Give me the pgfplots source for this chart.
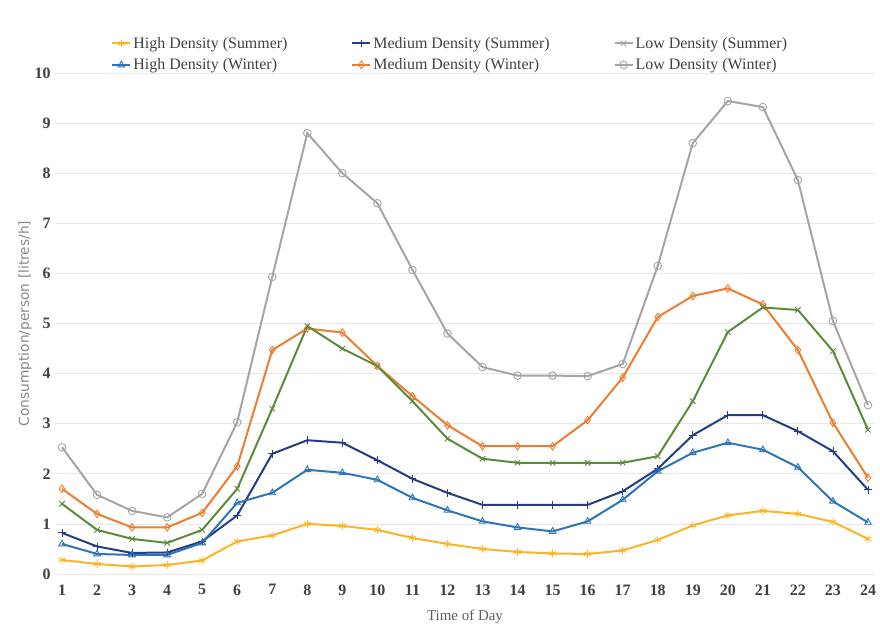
\documentclass[border=0pt]{standalone}
\usepackage{pgfplots}
\pgfplotsset{compat=1.18}
\usepackage{fontspec}
\setmainfont{Liberation Serif}
\newfontfamily\ylabfont{DejaVu Sans}
\definecolor{cHS}{RGB}{250,180,40}
\definecolor{cMS}{RGB}{35,62,130}
\definecolor{cLS}{RGB}{90,140,60}
\definecolor{cHW}{RGB}{46,117,182}
\definecolor{cMW}{RGB}{237,125,49}
\definecolor{cLW}{RGB}{165,165,165}
\definecolor{txt}{RGB}{64,64,64}
\definecolor{gridc}{RGB}{232,232,232}
\begin{document}
\begin{tikzpicture}
\path[use as bounding box] (0,0) rectangle (880bp,626bp);
\begin{axis}[
  at={(55bp,52bp)}, anchor=south west,
  scale only axis, width=820bp, height=501bp,
  xmin=0.8, xmax=24.2, ymin=0, ymax=10,
  xtick={1,...,24}, ytick={0,...,10},
  ymajorgrids, grid style={gridc, line width=0.6bp},
  axis line style={draw=none},
  major tick length=0pt,
  /pgf/number format/assume math mode=true,
  tick label style={font=\fontsize{16}{18}\selectfont\bfseries, text=txt},
  xticklabel style={yshift=-7bp},
  yticklabel style={xshift=-1bp},
  xlabel={\fontsize{15}{17}\selectfont Time of Day},
  xlabel style={text=txt!85, yshift=-8bp},
  ylabel={\ylabfont\fontsize{13.8}{15}\selectfont Consumption/person [litres/h]},
  ylabel style={text=gray!95, yshift=-4bp},
  legend columns=3,
  legend style={draw=none, fill=none, at={(0.482,1.076)}, anchor=north,
    font=\fontsize{16}{18}\selectfont, text=txt,
    /tikz/every even column/.append style={column sep=62bp},
    row sep=5bp, cells={anchor=west}, inner sep=0pt},
  legend image code/.code={\draw[#1, mark repeat=2, mark phase=2] plot coordinates {(0bp,0bp) (9bp,0bp) (18bp,0bp)};},
  every axis plot/.append style={line width=2bp, mark size=3.8bp},
]
\addlegendimage{cHS, mark=asterisk, mark options={line width=0.9bp}}
\addlegendentry{High Density (Summer)}
\addlegendimage{cMS, mark=+, mark options={line width=0.9bp}}
\addlegendentry{Medium Density (Summer)}
\addlegendimage{cLW, mark=x, mark options={line width=0.9bp}}
\addlegendentry{Low Density (Summer)}
\addlegendimage{cHW, mark=triangle, mark options={line width=0.9bp, fill=white}}
\addlegendentry{High Density (Winter)}
\addlegendimage{cMW, mark=diamond, mark options={line width=0.9bp, fill=white}}
\addlegendentry{Medium Density (Winter)}
\addlegendimage{cLW, mark=o, mark options={line width=0.9bp, fill=white}}
\addlegendentry{Low Density (Winter)}

% Low Density (Winter)
\addplot[cLW, mark=o, mark options={line width=0.9bp}, forget plot] coordinates {
(1,2.53)(2,1.58)(3,1.26)(4,1.13)(5,1.6)(6,3.03)(7,5.93)(8,8.8)(9,8.0)(10,7.4)(11,6.07)(12,4.8)(13,4.13)(14,3.96)(15,3.96)(16,3.95)(17,4.19)(18,6.15)(19,8.6)(20,9.44)(21,9.32)(22,7.86)(23,5.05)(24,3.37)};
% Medium Density (Winter)
\addplot[cMW, mark=diamond, mark options={line width=0.9bp}, forget plot] coordinates {
(1,1.7)(2,1.2)(3,0.93)(4,0.93)(5,1.22)(6,2.15)(7,4.47)(8,4.9)(9,4.82)(10,4.15)(11,3.55)(12,2.97)(13,2.55)(14,2.55)(15,2.55)(16,3.07)(17,3.92)(18,5.13)(19,5.55)(20,5.7)(21,5.38)(22,4.47)(23,3.02)(24,1.92)};
% Low Density (Summer)
\addplot[cLS, mark=x, mark options={line width=0.9bp}, forget plot] coordinates {
(1,1.4)(2,0.88)(3,0.7)(4,0.62)(5,0.88)(6,1.7)(7,3.3)(8,4.95)(9,4.5)(10,4.15)(11,3.45)(12,2.7)(13,2.3)(14,2.22)(15,2.22)(16,2.22)(17,2.22)(18,2.35)(19,3.45)(20,4.83)(21,5.32)(22,5.27)(23,4.45)(24,2.88)};
% Medium Density (Summer)
\addplot[cMS, mark=+, mark options={line width=0.9bp}, forget plot] coordinates {
(1,0.82)(2,0.55)(3,0.42)(4,0.43)(5,0.65)(6,1.17)(7,2.4)(8,2.67)(9,2.62)(10,2.27)(11,1.9)(12,1.62)(13,1.38)(14,1.38)(15,1.38)(16,1.38)(17,1.65)(18,2.1)(19,2.77)(20,3.17)(21,3.17)(22,2.85)(23,2.45)(24,1.68)};
% High Density (Winter)
\addplot[cHW, mark=triangle, mark options={line width=0.9bp}, forget plot] coordinates {
(1,0.6)(2,0.4)(3,0.38)(4,0.38)(5,0.62)(6,1.42)(7,1.62)(8,2.08)(9,2.02)(10,1.88)(11,1.52)(12,1.27)(13,1.05)(14,0.93)(15,0.85)(16,1.05)(17,1.48)(18,2.05)(19,2.42)(20,2.62)(21,2.48)(22,2.13)(23,1.45)(24,1.03)};
% High Density (Summer)
\addplot[cHS, mark=asterisk, mark options={line width=0.9bp}, forget plot] coordinates {
(1,0.28)(2,0.2)(3,0.15)(4,0.18)(5,0.27)(6,0.65)(7,0.77)(8,1.0)(9,0.96)(10,0.88)(11,0.72)(12,0.6)(13,0.5)(14,0.44)(15,0.41)(16,0.4)(17,0.47)(18,0.68)(19,0.97)(20,1.17)(21,1.26)(22,1.2)(23,1.04)(24,0.7)};
\end{axis}
\end{tikzpicture}
\end{document}
